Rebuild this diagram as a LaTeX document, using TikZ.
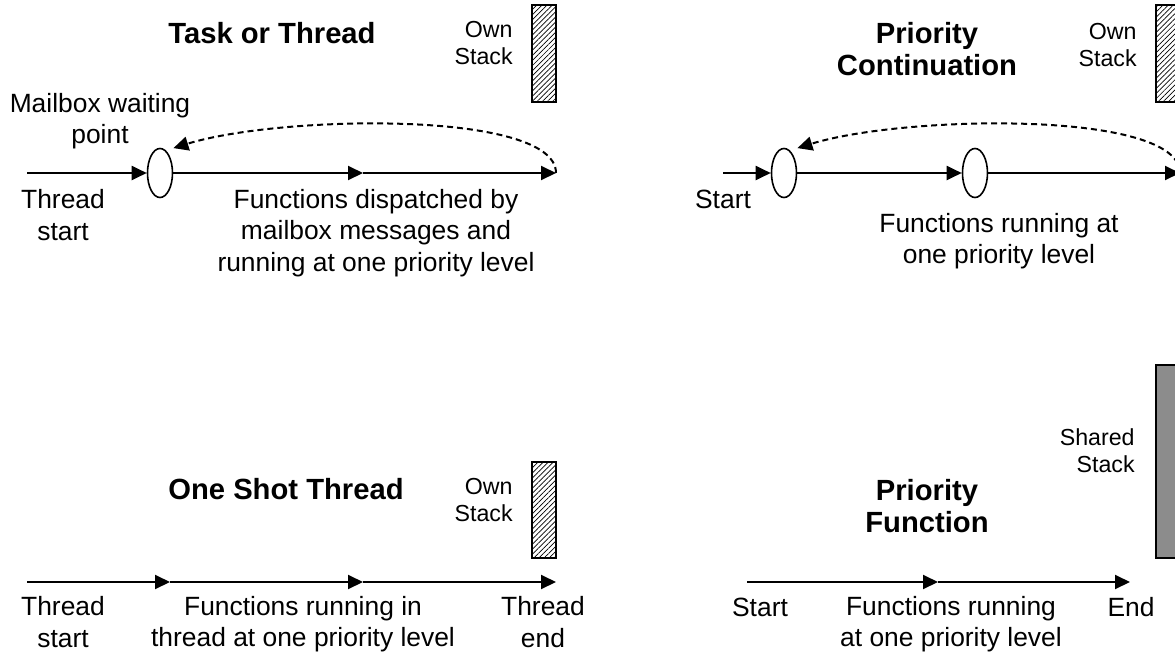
\documentclass[tikz,border=0pt]{standalone}
\usepackage{fontspec}
\setmainfont{Liberation Sans}
\usetikzlibrary{arrows.meta,shapes.geometric,patterns.meta}

\begin{document}
\begin{tikzpicture}[x=0.5pt,y=-0.5pt,
    lbl/.style={align=center, inner sep=0pt, font=\fontsize{13.2}{15.8}\selectfont},
    ttl/.style={align=center, inner sep=0pt, font=\fontsize{14.6}{16.4}\selectfont\bfseries},
    stk/.style={align=right, inner sep=0pt, anchor=east, font=\fontsize{11.6}{13.6}\selectfont},
    wait/.style={draw, ellipse, line width=0.8pt, minimum width=12.5pt, minimum height=24.5pt, inner sep=0pt},
    flow/.style={line width=1pt, -{Triangle[length=7.5pt,width=7pt]}},
    back/.style={line width=1pt, dash pattern=on 3pt off 2pt, -{Triangle[length=7.5pt,width=7pt]}},
    ownstack/.style={draw, line width=1pt, pattern={Lines[angle=45,distance=1.8pt,line width=0.35pt]}},
    sharedstack/.style={draw, line width=1pt, fill=black!45}]
  \clip (0,0) rectangle (1175,654);

  % task or thread
  \node[ttl] (t1) at (272,33) {Task or Thread};
  \node[stk] (os1) at (513,43) {Own\\Stack};
  \draw[ownstack] (532,5) rectangle (556,102);
  \node[lbl] (mbw) at (100,121) {Mailbox waiting\\point};
  \coordinate (ts) at (27,173);
  \node[wait] (mb) at (160,173) {};
  \coordinate (tf) at (363,173);
  \coordinate (te) at (556,173);
  \coordinate (tb) at ([shift={(4,-7)}]mb.north east);
  \draw[flow] (ts) -- (mb);
  \draw[flow] (mb) -- (tf);
  \draw[flow] (tf) -- (te);
  \draw[back] (te) .. controls (556,110) and (280,115) .. (tb);
  \node[lbl] (tstart) at (63,215) {Thread\\start};
  \node[lbl] (fdisp) at (376,233) {Functions dispatched by\\mailbox messages and\\running at one priority level};

  % priority continuation
  \node[ttl] (t2) at (927,49) {Priority\\Continuation};
  \node[stk] (os2) at (1137,45) {Own\\Stack};
  \draw[ownstack] (1156,5) rectangle (1180,102);
  \coordinate (ps) at (723,173);
  \node[wait] (pc1) at (784,173) {};
  \node[wait] (pc2) at (975,173) {};
  \coordinate (pe) at (1180,173);
  \coordinate (pb) at ([shift={(4,-7)}]pc1.north east);
  \draw[flow] (ps) -- (pc1);
  \draw[flow] (pc1) -- (pc2);
  \draw[flow] (pc2) -- (pe);
  \draw[back] (pe) .. controls (1180,110) and (904,115) .. (pb);
  \node[lbl] (pstart) at (723,199) {Start};
  \node[lbl] (prun) at (999,241) {Functions running at\\one priority level};

  % one shot thread
  \node[ttl] (t3) at (286,489) {One Shot Thread};
  \node[stk] (os3) at (513,500) {Own\\Stack};
  \draw[ownstack] (532,462) rectangle (556,558);
  \coordinate (os) at (27,582);
  \coordinate (o1) at (170,582);
  \coordinate (o2) at (363,582);
  \coordinate (oe) at (556,582);
  \draw[flow] (os) -- (o1);
  \draw[flow] (o1) -- (o2);
  \draw[flow] (o2) -- (oe);
  \node[lbl] (ostart) at (63,622) {Thread\\start};
  \node[lbl] (orun) at (303,624) {Functions running in\\thread at one priority level};
  \node[lbl] (oend) at (543,622) {Thread\\end};

  % priority function
  \node[ttl] (t4) at (927,506) {Priority\\Function};
  \node[stk] (ss) at (1135,451) {Shared\\Stack};
  \draw[sharedstack] (1156,365) rectangle (1180,558);
  \coordinate (fs) at (747,582);
  \coordinate (fm) at (938,582);
  \coordinate (fe) at (1130,582);
  \draw[flow] (fs) -- (fm);
  \draw[flow] (fm) -- (fe);
  \node[lbl] (fstart) at (760,607) {Start};
  \node[lbl] (frun) at (951,624) {Functions running\\at one priority level};
  \node[lbl] (fend) at (1131,607) {End};
\end{tikzpicture}
\end{document}
